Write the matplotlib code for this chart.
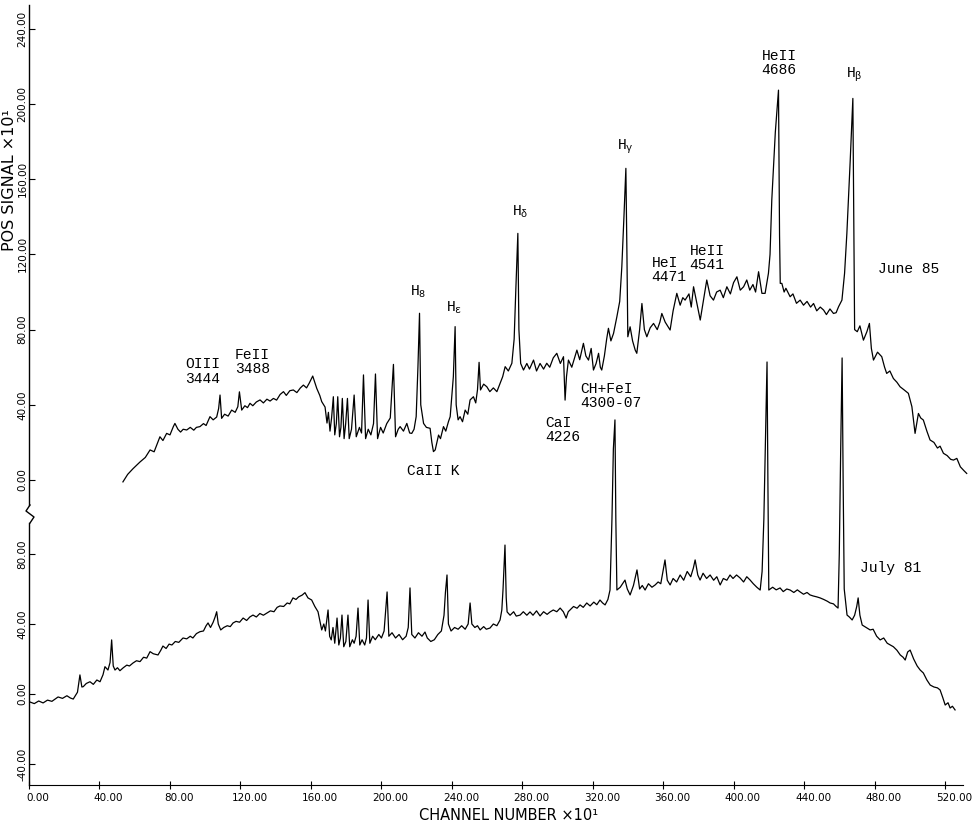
import numpy as np
import matplotlib
matplotlib.use('Agg')
import matplotlib.pyplot as plt
from matplotlib.lines import Line2D
from matplotlib.ticker import FormatStrFormatter
from matplotlib.transforms import ScaledTranslation

# June 85 spectrum (upper trace), channel number x10 vs POS signal x10
june_ch = [53.3, 56, 59, 63, 66, 68.7, 71, 74.3, 76, 78.1, 80, 81.9, 82.8, 84.5, 86, 87.5, 89.5, 91.5, 93.5, 95,
           97, 99, 100.5, 102.7, 104.5, 106.5, 107.6, 108.4, 109.3, 111, 113, 115, 117, 118.5, 119.4, 120.7, 122.5,
           124, 125.4, 127, 129, 131.1, 133, 135, 136.8, 138.7, 140.5, 142.5, 144.4, 146, 148, 150, 152, 154, 155.7,
           157.5, 159, 161, 163.3, 165, 166.1, 168, 169.1, 169.9, 170.8, 171.7, 172.7, 173.5, 174.4, 175.2, 176.2,
           177.0, 177.8, 178.8, 179.7, 180.7, 181.7, 183.0, 184.5, 185.7, 187.5, 188.7, 189.8, 191.0, 192.5, 194.0,
           195.5, 196.6, 197.8, 199.5, 201.0, 203.0, 205.0, 206.8, 208.0, 209.5, 210.6, 212.5, 214.4, 216.0, 217.2,
           218.5, 219.7, 220.7, 221.6, 222.3, 223.9, 225.5, 227.6, 228.6, 229.5, 230.5, 232.4, 233.5, 235.2, 236.5,
           238.0, 239.0, 240.8, 241.8, 242.4, 243.5, 244.6, 246.0, 247.5, 249.0, 250.3, 252.2, 253.5, 254.5, 255.4,
           256.2, 258.0, 259.8, 261.5, 263.5, 265.5, 267.3, 268.8, 270.2, 272.0, 274.0, 275.3, 276.2, 277.4, 278.0,
           279.0, 280.6, 282.5, 284.0, 286.3, 288.0, 290.0, 292.0, 293.8, 295.5, 297.5, 299.5, 301.5, 303.3, 304.2,
           305.0, 306.1, 308.0, 310.9, 312.5, 314.6, 316.0, 317.5, 319.0, 320.3, 321.8, 323.2, 324.2, 325.0, 326.5,
           327.8, 328.8, 330.2, 331.7, 333.6, 335.2, 336.4, 337.6, 338.7, 339.3, 339.8, 341.1, 342.5, 344.0, 344.9,
           346.5, 347.8, 349.2, 350.6, 352.5, 354.4, 356.5, 358.0, 359.1, 361.0, 363.8, 365.5, 367.6, 369.5, 371.0,
           372.3, 374.5, 375.8, 377.1, 378.8, 380.9, 382.8, 384.6, 386.5, 388.4, 390.2, 392.2, 394.0, 396.0, 398.0,
           399.8, 401.7, 403.6, 405.5, 407.3, 409.0, 410.8, 412.3, 414.0, 415.9, 417.7, 419.6, 420.5, 421.5, 423.5,
           425.3, 425.9, 426.3, 427.2, 428.5, 429.5, 431.9, 433.5, 435.5, 437.6, 439.5, 441.5, 443.5, 445.2, 447,
           449, 450.9, 452.5, 454.5, 456.5, 458, 459.4, 461.3, 462.8, 464.1, 466.0, 467.5, 468.0, 468.5, 470.0,
           471.5, 473.5, 475.5, 476.9, 478.0, 479.2, 481.5, 483.9, 485.5, 486.7, 488.5, 490.5, 492.5, 494.3, 496.5,
           499.0, 501.0, 502.8, 504.7, 506.0, 507.5, 509.5, 511.3, 513.5, 515.5, 517.0, 518.9, 521, 523, 524.6,
           526.5, 528.5, 530.5, 532.1]
june_sig = [-1, 3, 6, 9.6, 12, 16, 15, 23, 21, 24.8, 24, 28.4, 30.1, 27, 25.5, 27, 26.6, 28, 26.5, 28,
            28.4, 30, 29, 33.7, 32, 33.5, 38, 45.2, 32.8, 35, 34, 37.2, 36, 39, 46.9, 37.2, 39.5,
            38.5, 40.8, 39.5, 41.5, 42.6, 41, 43, 42, 43.4, 42.5, 45.5, 47, 45, 47.5, 47.9, 46.5, 49, 50.5,
            49, 51.5, 55.3, 48.7, 45, 41.7, 38.8, 30.3, 36, 26, 33, 44.3, 24, 30, 44.3, 23,
            28, 43.4, 22, 30, 43.4, 22, 27, 45.2, 23, 28, 25, 55.9, 22, 27, 24,
            30, 56.4, 22, 28, 25, 30, 33, 61.5, 23, 27, 28.4, 26, 30.1, 25, 24.8,
            27, 33.7, 60, 88.7, 40, 30.1, 28, 27.5, 20, 15.1, 16, 23.9, 22, 28.4, 26,
            31, 33.7, 55, 81.6, 40, 32, 33.7, 31, 37.2, 35, 42.6, 44.3, 41, 48, 62.6,
            47.9, 51, 49.6, 47, 49, 47, 51.4, 55, 60.3, 58, 62.1, 75, 100, 131.2, 80,
            62, 58.5, 62, 59, 63.8, 58, 62, 59, 62.1, 60, 65, 67.4, 62, 65.6, 42.5,
            55, 63.8, 60, 69.1, 64, 72.7, 66, 63.8, 70, 58.5, 62, 67.4, 60, 58.5, 66,
            75, 80.7, 74, 78, 86.9, 95, 113.5, 140, 165.8, 120, 76.2, 81.5, 74, 69.1, 67.4,
            80, 93.9, 80, 76.2, 81, 83.3, 80, 84, 88.6, 84, 79.8, 90, 99.3, 93, 97,
            95.7, 99, 92, 102.8, 95, 85.1, 96, 106.4, 98, 95.7, 100, 101, 97, 102.8, 99,
            105, 108.1, 101, 102.8, 106.4, 101, 104, 100, 110.8, 99.3, 99.3, 110, 120, 149, 185,
            207.4, 130, 104.6, 104.6, 100, 102, 97.5, 99, 94, 95.7, 93, 95, 92, 93.9, 90,
            92, 90.4, 88, 91, 88.6, 89, 92.2, 95.7, 110, 131.2, 170, 203, 140, 80, 78.9,
            82, 74.4, 79, 83.3, 70, 63.8, 68, 65.6, 60, 56.7, 58, 54, 52, 49.6, 48,
            46.1, 39, 24.8, 35.4, 33, 31.9, 26, 21.3, 20, 17, 18, 14.2, 13, 11, 10.6,
            11.5, 7, 5, 3.5]

# July 81 spectrum (lower trace)
july_ch = [0.6, 3, 5.5, 8, 10.5, 13, 16.5, 19, 21.5, 23.5, 25.1, 27.5, 28.9, 30.0, 30.8, 32.5, 34.6, 36.5, 38.5,
           40.3, 42, 43.1, 44.8, 46.0, 46.9, 47.8, 48.8, 50.2, 51.6, 53.5, 55.5, 57, 59, 61, 63, 65, 66.8, 68.7,
           70.5, 73.2, 74.8, 76, 77.8, 79.5, 81.1, 83, 85, 87.4, 89.5, 91.5, 93, 95, 97, 99, 100.5, 101.6, 103,
           104.5, 105.6, 106.5, 107.4, 108.8, 110.5, 112.5, 114.2, 115.8, 117.5, 119.5, 121.5, 123.5, 125.3, 127.1,
           129, 131, 133, 135.1, 137, 139, 140.8, 142.4, 144.5, 146.5, 148, 149.8, 151.5, 153, 155, 156.6, 158.3,
           160.4, 162.2, 164, 165, 166.1, 167.3, 168.2, 169.7, 170.6, 171.5, 172.5, 173.5, 174.8, 175.8, 176.7,
           177.6, 178.6, 179.8, 181.0, 182.0, 183.5, 184.5, 185.6, 186.7, 187.7, 189, 190.5, 191.5, 192.4, 193.4,
           195, 196.5, 198.5, 200, 201.5, 203.2, 204.2, 206, 208, 210, 212, 214, 215.2, 216.2, 217.2, 219, 221,
           223, 224.7, 226, 228, 230, 232, 234, 235.5, 236.3, 237.2, 238.0, 239.5, 241.5, 243.5, 245.5, 247.5,
           249.2, 250.3, 251.3, 253, 254.5, 256, 258, 259.5, 261.6, 263.5, 265.5, 267.3, 268.3, 269.0, 270.1,
           270.8, 271.3, 273, 275, 276.5, 278.7, 280.5, 282.5, 284.3, 286, 288, 290, 292, 294, 295.7, 297.5,
           299.5, 301.4, 303.2, 304.8, 306, 307, 309, 311, 312.7, 314.5, 316.5, 318.4, 320.5, 322.2, 324, 325.5,
           326.9, 328.5, 329.7, 330.8, 331.6, 332.5, 333.0, 333.6, 335.5, 338.2, 339.5, 341.1, 343, 345, 346.5,
           348, 349.6, 351.5, 353.5, 355.3, 357, 358.5, 360.9, 362.2, 363.8, 365.5, 367.5, 369.5, 371.5, 373.5,
           375.5, 377.0, 378.0, 379.5, 380.8, 382.5, 384.5, 386.5, 388.5, 390.3, 392.2, 394, 396, 397.8, 399.5,
           401.5, 403.5, 405.5, 407.3, 409.2, 411, 413, 414.9, 416.0, 417.0, 418.0, 418.8, 419.3, 419.8, 422, 424,
           426.2, 428, 430, 431.9, 434, 436, 437.6, 439.5, 441.5, 443.2, 445, 447, 448.9, 451, 453, 454.6, 456.5,
           458, 459.1, 459.8, 460.6, 461.4, 462.0, 462.6, 464.2, 465.5, 467.1, 468.5, 469.7, 470.5, 471.5, 472.8,
           475, 477.3, 479, 481, 483, 485, 487, 488.7, 490.5, 492.5, 494.4, 496, 497.2, 498.6, 500, 502, 504,
           505.7, 507.5, 509.5, 511.4, 513.5, 515.5, 517, 518.5, 519.9, 521.5, 522.7, 524, 525.5]
july_sig = [-4.6, -5.5, -4, -5.1, -3.5, -4.2, -1.7, -2.5, -1, -2.3, -2.9, 1, 10.9, 4, 4.2, 6, 7, 5.5, 8,
            7, 11, 15.6, 13.7, 18, 30.9, 16, 13.7, 15, 13.3, 15, 16.5, 16, 17.7, 19, 18.5, 21, 20.5, 24.2,
            23, 22.3, 25, 27.4, 26, 28.5, 28, 30, 29.5, 32, 31.5, 33, 32, 34.5, 35.6, 36, 39, 40.6, 38,
            41, 44, 47, 40, 36.6, 38, 39, 38.5, 40.6, 41.5, 41, 43.4, 42, 44, 45.1,
            44, 46, 45, 46.3, 47.5, 47, 49.5, 50.3, 50, 52, 51.5, 54.9, 54, 55.5, 56.5, 57.9, 54.9,
            53.7, 50, 47, 42, 36.6, 40, 36, 48, 33, 30.9, 38, 29, 43.4, 28, 32,
            45.1, 27, 30, 45.1, 27, 31, 29, 33, 49.1, 28, 31, 28, 32, 53.7, 29,
            33, 31, 34, 32, 36, 58.3, 33, 35, 32, 34, 31, 33, 38, 60.6, 34, 32, 35,
            33, 35.4, 32, 30, 31, 34, 36, 45, 58, 68, 40, 36, 38, 37, 39, 37,
            40, 52, 40, 38, 39, 36.6, 38.5, 37, 37.7, 40, 39, 42.3, 48, 60, 85.1,
            55, 46.9, 45, 47, 44.5, 45.1, 47, 45, 46.9, 45, 47.5, 44.6, 47, 45.5, 46.9, 48,
            47, 49.1, 47, 43.4, 47, 48, 50, 49, 50.9, 49.5, 52, 50.3, 52.5, 51, 53.7, 52,
            50.9, 54, 59.4, 100, 140, 156.6, 100, 59.4, 61, 65.1, 60, 56.6, 62, 70.9, 60,
            62, 59.4, 63, 61, 62.3, 64, 63, 76.6, 65, 62.3, 66, 64, 68, 65, 70,
            67, 72, 76.6, 68, 65.1, 69, 66, 68, 65, 67, 62.3, 66, 65, 68, 66,
            68, 66.3, 64, 67, 65.1, 63, 61, 59.4, 70, 100, 150, 189.7, 120, 59.4, 61, 59.5,
            60.6, 58.5, 60, 59.4, 58, 59.5, 58.3, 57, 58, 56.6, 56, 55.5, 54.9, 54, 53, 52, 51.5,
            50, 49.1, 80, 140, 192, 120, 60, 45.1, 44, 42.3, 45, 50, 54.9, 45, 39.4,
            38, 36.6, 37, 33, 30.9, 32, 29, 28, 27, 25, 22.3, 21, 19.4, 24, 25.1, 20, 16,
            13.7, 12, 8, 5.1, 4, 3.5, 2.3, -2, -6.3, -5, -8, -7, -9.1]

upper_ticks = [0, 40, 80, 120, 160, 200, 240]
lower_ticks = [-40, 0, 40, 80]
x_ticks = [0, 40, 80, 120, 160, 200, 240, 280, 320, 360, 400, 440, 480, 520]

# line labels: (text, channel, signal) in the upper panel
june_labels = [
    ("OIII\n3444", 98.5, 57.7),
    ("FeII\n3488", 126.6, 62.8),
    ("H$_8$", 220.8, 100),
    ("H$_\\varepsilon$", 241.2, 91.5),
    ("CaII K", 229.3, 4.8),
    ("H$_\\delta$", 278.7, 142.6),
    ("CaI\n4226", 303, 26.6),
    ("CH+FeI\n4300-07", 330, 44.7),
    ("H$_\\gamma$", 338.3, 177),
    ("HeI\n4471", 363.2, 111.7),
    ("HeII\n4541", 384.8, 118),
    ("HeII\n4686", 425.7, 221.8),
    ("H$_\\beta$", 468.2, 215.4),
    ("June 85", 498.9, 112.5),
]
july_labels = [("July 81", 488.7, 72)]

plt.rcParams['mathtext.fontset'] = 'custom'
plt.rcParams['mathtext.rm'] = 'Liberation Mono'
plt.rcParams['mathtext.it'] = 'Liberation Mono'

W, H = 972, 826
fig = plt.figure(figsize=(W / 100, H / 100), dpi=100)
ax_up = fig.add_axes([29 / W, 1 - 505 / H, 934 / W, 500 / H])
ax_lo = fig.add_axes([29 / W, 1 - 785 / H, 934 / W, 262 / H])

for ax in (ax_up, ax_lo):
    ax.set_xlim(0, 530)
    ax.patch.set_alpha(0)
    for s in ('top', 'right'):
        ax.spines[s].set_visible(False)
    ax.spines['left'].set_linewidth(1.0)
    ax.tick_params(axis='y', direction='in', length=4, width=0.8, labelsize=7.5,
                   labelrotation=90, pad=1)
    ax.yaxis.set_major_formatter(FormatStrFormatter('%.2f'))

ax_up.plot(june_ch, june_sig, color='black', lw=0.9, clip_on=False)
ax_up.set_ylim(-13.3, 252.7)
ax_up.set_yticks(upper_ticks)
ax_up.spines['bottom'].set_visible(False)
ax_up.tick_params(axis='x', bottom=False, labelbottom=False)

ax_lo.plot(july_ch, july_sig, color='black', lw=0.9, clip_on=False)
ax_lo.set_ylim(-52, 97.7)
ax_lo.set_yticks(lower_ticks)
ax_lo.set_xticks(x_ticks)
ax_lo.xaxis.set_major_formatter(FormatStrFormatter('%.2f'))
ax_lo.tick_params(axis='x', direction='inout', length=6, width=0.8, labelsize=7.5, pad=3)
for lab in ax_lo.get_xticklabels():
    lab.set_transform(lab.get_transform() + ScaledTranslation(0.09, 0, fig.dpi_scale_trans))
for lab in ax_up.get_yticklabels() + ax_lo.get_yticklabels():
    lab.set_va('center')

for txt, x, y in june_labels:
    ax_up.text(x, y, txt, ha='center', va='center', family='Liberation Mono',
               fontsize=10.5, linespacing=1.05, multialignment='left')
for txt, x, y in july_labels:
    ax_lo.text(x, y, txt, ha='center', va='center', family='Liberation Mono', fontsize=10.5)

# broken axis mark between the two panels
bx = np.array([30, 26, 34, 30]) / W
by = 1 - np.array([505, 511, 517, 523]) / H
fig.add_artist(Line2D(bx, by, color='black', lw=1.0, transform=fig.transFigure))

fig.text(509 / W, 1 - 815 / H, "CHANNEL NUMBER \u00d710\u00b9", ha='center', va='center', fontsize=10.5)
fig.text(10 / W, 1 - 180 / H, "POS SIGNAL \u00d710\u00b9", ha='center', va='center',
         rotation=90, fontsize=11.5)

fig.savefig('out.png', dpi=100)
